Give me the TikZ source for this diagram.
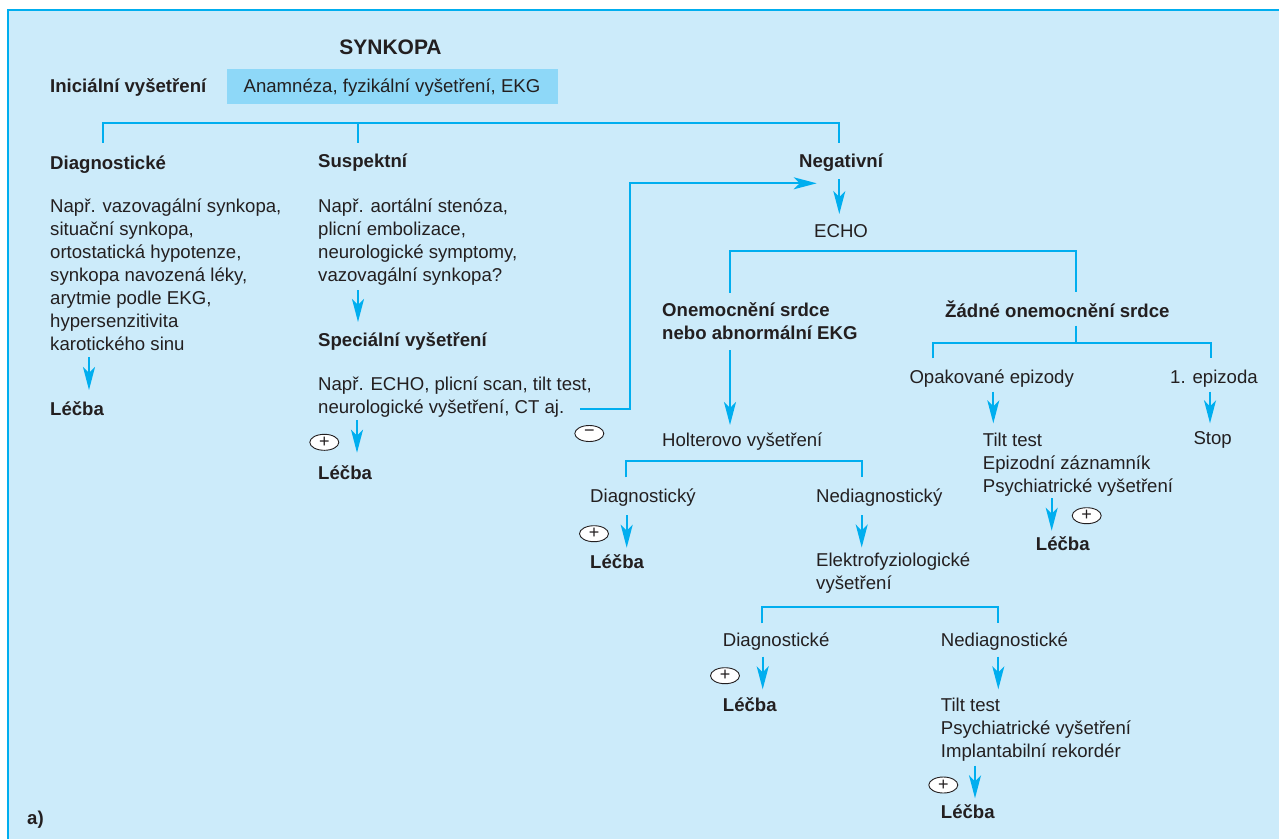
\documentclass[tikz,border=0pt]{standalone}
\usepackage{fontspec}
\setmainfont{Liberation Sans}
\usetikzlibrary{arrows.meta,shapes.geometric}

\definecolor{panel}{HTML}{CCEBFA}
\definecolor{cyanline}{HTML}{00AEEF}
\definecolor{boxblue}{HTML}{8ED8F8}
\definecolor{ink}{HTML}{231F20}

\begin{document}
\begin{tikzpicture}[
    x=1pt, y=-1pt,
    txt/.style={inner sep=0pt, anchor=base west, align=left, text=ink,
                font=\fontsize{18.6}{23}\selectfont},
    hd/.style={txt, font=\fontsize{18.6}{23}\selectfont\bfseries},
    arr/.style={-{Stealth[length=23pt, width=12pt, inset=6pt]}, line width=1.7pt, draw=cyanline},
    brk/.style={line width=1.7pt, draw=cyanline},
    sign/.style={draw=ink, ellipse, fill=white, line width=0.9pt, minimum width=29pt,
                 minimum height=16pt, inner sep=0pt, text=ink, font=\fontsize{18}{18}\selectfont},
]
  \useasboundingbox (0,0) rectangle (1279,839);
  % Panel
  \fill[panel] (8,10) rectangle (1279,839);
  \draw[brk] (8,839) -- (8,10) -- (1279,10);

  % Row 1: Title and initial examination
  \node[hd, anchor=base, font=\fontsize{21}{25}\selectfont\bfseries] (title) at (390.5,54) {SYNKOPA};
  \node[hd] (init) at (50,92.5) {Iniciální vyšetření};
  \node[fill=boxblue, minimum width=331pt, minimum height=35pt, inner sep=0pt,
        text height=14pt, text depth=2.4pt, text=ink, font=\fontsize{18.6}{23}\selectfont]
        (initbox) at (392,86.5) {Anamnéza, fyzikální vyšetření, EKG};

  % Row 2: Three outcomes
  \node[hd] (diag) at (50,169) {Diagnostické};
  \node[hd] (susp) at (318,167) {Suspektní};
  \node[hd] (neg) at (799,167) {Negativní};

  % multi-line nodes sit on their last baseline
  \node[txt] (diaglist) at (50,350) {Např. vazovagální synkopa,\\situační synkopa,\\ortostatická hypotenze,\\synkopa navozená léky,\\arytmie podle EKG,\\hypersenzitivita\\karotického sinu};
  \node[hd] (lecbaA) at (50,415) {Léčba};

  \node[txt] (susplist) at (318,281) {Např. aortální stenóza,\\plicní embolizace,\\neurologické symptomy,\\vazovagální synkopa?};
  \node[hd] (special) at (318,346) {Speciální vyšetření};
  \node[txt] (speclist) at (318,413) {Např. ECHO, plicní scan, tilt test,\\neurologické vyšetření, CT aj.};
  \node[hd] (lecbaB) at (318,479) {Léčba};

  % Negative branch
  \node[txt] (echo) at (814,237) {ECHO};
  \node[hd] (heart) at (662,339.5) {Onemocnění srdce\\nebo abnormální EKG};
  \node[hd] (noheart) at (945,317) {Žádné onemocnění srdce};

  \node[txt] (holter) at (662,446.7) {Holterovo vyšetření};
  \node[txt] (diagH) at (590,502.7) {Diagnostický};
  \node[txt] (nondiagH) at (816,502.7) {Nediagnostický};
  \node[hd] (lecbaC) at (590,568.3) {Léčba};
  \node[txt] (ep) at (816,589.5) {Elektrofyziologické\\vyšetření};
  \node[txt] (diagE) at (722.7,646.7) {Diagnostické};
  \node[txt] (nondiagE) at (940.7,646.7) {Nediagnostické};
  \node[hd] (lecbaD) at (722.7,711.7) {Léčba};
  \node[txt] (list3) at (940.7,757) {Tilt test\\Psychiatrické vyšetření\\Implantabilní rekordér};
  \node[hd] (lecbaE) at (940.7,818.3) {Léčba};

  \node[txt] (repeat) at (909.3,383.3) {Opakované epizody};
  \node[txt] (first) at (1170,383.3) {1. epizoda};
  \node[txt] (list2) at (982.7,492.5) {Tilt test\\Epizodní záznamník\\Psychiatrické vyšetření};
  \node[txt] (stop) at (1193.3,444.3) {Stop};
  \node[hd] (lecbaF) at (1035.7,550.7) {Léčba};

  \node[hd] (lab) at (27,824) {a)};

  % Signs
  \node[sign] (plusB) at (324.3,442.3) {+};
  \node[sign] (minusB) at (589.3,433.5) {−};
  \node[sign] (plusC) at (594,533.7) {+};
  \node[sign] (plusF) at (1086.7,515.7) {+};
  \node[sign] (plusD) at (725,675.7) {+};
  \node[sign] (plusE) at (943.3,785) {+};

  % Brackets
  \draw[brk] ([shift={(53.3,-26.3)}]diag.base west) -- ++(0,-19.4) -| ([shift={(40,-24.3)}]neg.base west);
  \draw[brk] ([shift={(40.3,-24.3)}]susp.base west) -- ++(0,-19.4);
  \draw[brk] ([shift={(68,-46.8)}]heart.base west) -- ++(0,-41.7) -| ([shift={(131,-24.7)}]noheart.base west);
  \draw[brk] ([shift={(131,8.7)}]noheart.base west) -- ++(0,17);
  \draw[brk] ([shift={(24,-25)}]repeat.base west) -- ++(0,-15.6) -| ([shift={(41,-25)}]first.base west);
  \draw[brk] ([shift={(35.7,-25.4)}]diagH.base west) -- ++(0,-16.3) -| ([shift={(46.3,-25.4)}]nondiagH.base west);
  \draw[brk] ([shift={(39,-23.4)}]diagE.base west) -- ++(0,-16) -| ([shift={(57.6,-23.4)}]nondiagE.base west);

  % Arrows
  \draw[arr] ([shift={(39,7)}]diaglist.base west) -- ([shift={(39,-25)}]lecbaA.base west);
  \draw[arr] ([shift={(40,9)}]susplist.base west) -- ([shift={(40,-24)}]special.base west);
  \draw[arr] ([shift={(39,7)}]speclist.base west) -- ([shift={(39,-26.3)}]lecbaB.base west);
  \draw[arr] ([shift={(262,-4)}]speclist.base west) -- ++(50.3,0) |- ([shift={(17.7,16.3)}]neg.base west);
  \draw[arr] ([shift={(40.3,12.3)}]neg.base west) -- ([shift={(25.3,-23)}]echo.base west);
  \draw[arr] ([shift={(68,10.5)}]heart.base west) -- ([shift={(68,-21.7)}]holter.base west);
  \draw[arr] ([shift={(84,8.4)}]repeat.base west) -- ([shift={(10.6,-69.2)}]list2.base west);
  \draw[arr] ([shift={(40,8.4)}]first.base west) -- ([shift={(16.7,-21)}]stop.base west);
  \draw[arr] ([shift={(69,5.8)}]list2.base west) -- ([shift={(16,-20)}]lecbaF.base west);
  \draw[arr] ([shift={(36.7,12.3)}]diagH.base west) -- ([shift={(36.7,-20.6)}]lecbaC.base west);
  \draw[arr] ([shift={(45.7,12.3)}]nondiagH.base west) -- ([shift={(45.7,-42)}]ep.base west);
  \draw[arr] ([shift={(40,10)}]diagE.base west) -- ([shift={(40,-22.4)}]lecbaD.base west);
  \draw[arr] ([shift={(57.6,10)}]nondiagE.base west) -- ([shift={(57.6,-67.7)}]list3.base west);
  \draw[arr] ([shift={(34.3,8.7)}]list3.base west) -- ([shift={(34.3,-20)}]lecbaE.base west);
\end{tikzpicture}
\end{document}
